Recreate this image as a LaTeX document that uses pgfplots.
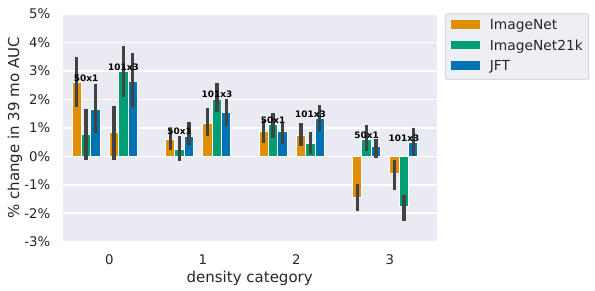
\documentclass[border=0pt]{standalone}
\usepackage{pgfplots}
\pgfplotsset{compat=1.18}
\usepackage{pgfplotstable}
\usepackage{fontspec}
\setmainfont{DejaVu Sans}

\definecolor{cOr}{HTML}{DE8F05}
\definecolor{cGr}{HTML}{029E73}
\definecolor{cBl}{HTML}{0173B2}
\definecolor{bgc}{HTML}{EAEAF2}
\definecolor{errc}{HTML}{424242}
\definecolor{txtc}{HTML}{262626}
\definecolor{legfill}{HTML}{EEEEF5}
\definecolor{legdraw}{HTML}{CCCCCC}

% x = category + offset (50x1: -0.35/-0.25/-0.15, 101x3: +0.05/+0.15/+0.25)
\pgfplotstableread{
x     y     ep    em
-0.35 2.59  0.89  0.86
0.05  0.82  0.96  0.96
0.65  0.59  0.38  0.38
1.05  1.17  0.54  0.46
1.65  0.88  0.38  0.41
2.05  0.73  0.44  0.38
2.65  -1.43 0.45  0.49
3.05  -0.61 0.47  0.58
}\tabIN
\pgfplotstableread{
x     y     ep    em
-0.25 0.78  0.89  0.92
0.15  2.99  0.87  0.89
0.75  0.25  0.45  0.41
1.15  2.01  0.56  0.46
1.75  1.11  0.42  0.46
2.15  0.44  0.41  0.35
2.75  0.59  0.50  0.40
3.15  -1.78 0.41  0.50
}\tabINtwo
\pgfplotstableread{
x     y     ep    em
-0.15 1.65  0.90  0.83
0.25  2.64  0.98  0.89
0.85  0.71  0.48  0.33
1.25  1.53  0.48  0.48
1.85  0.88  0.30  0.44
2.25  1.32  0.50  0.43
2.85  0.36  0.25  0.41
3.25  0.48  0.53  0.47
}\tabJFT

\begin{document}
\begin{tikzpicture}
\begin{axis}[
  at={(62.7bp,49.3bp)}, anchor=south west,
  width=374bp, height=227.7bp, scale only axis,
  xmin=-0.5, xmax=3.5, ymin=-3, ymax=5,
  xtick={0,1,2,3}, xticklabels={0,1,2,3},
  ytick={-3,-2,-1,0,1,2,3,4,5},
  yticklabels={-3\%,-2\%,-1\%,0\%,1\%,2\%,3\%,4\%,5\%},
  axis background/.style={fill=bgc},
  axis line style={draw=none},
  major tick length=0pt,
  ymajorgrids, grid style={white, line width=1.5bp},
  tick label style={font=\fontsize{13.3bp}{15bp}\selectfont, text=txtc},
  xticklabel style={anchor=north, inner sep=0pt, yshift=-12.8bp},
  yticklabel style={anchor=east, inner sep=0pt, xshift=-12.2bp},
  xlabel={density category}, ylabel={\% change in 39 mo AUC},
  every axis x label/.style={at={(axis description cs:0.5,-0.16)}, anchor=center,
     font=\fontsize{15bp}{17bp}\selectfont, text=txtc},
  every axis y label/.style={at={(axis description cs:-0.1275,0.5)}, anchor=center, rotate=90,
     font=\fontsize{15bp}{17bp}\selectfont, text=txtc},
  legend cell align=left,
  legend style={at={(rel axis cs:1.022,1.003)}, anchor=north west,
     draw=legdraw, fill=legfill, rounded corners=2.5bp, line width=0.8bp,
     inner xsep=6bp, inner ysep=5.6bp, row sep=7.7bp, column sep=10.4bp,
     font=\fontsize{13.8bp}{16bp}\selectfont, text=txtc,
     nodes={inner sep=0bp, text height=10bp, text depth=3bp}},
]
\addplot[ybar, bar width=0.1, bar shift=0pt, fill=cOr, draw=white, line width=1bp, forget plot,
  error bars/.cd, y dir=both, y explicit, error mark=none,
  error bar style={draw=errc, line width=3.3bp}]
  table[x=x, y=y, y error plus=ep, y error minus=em]{\tabIN};
\addplot[ybar, bar width=0.1, bar shift=0pt, fill=cGr, draw=white, line width=1bp, forget plot,
  error bars/.cd, y dir=both, y explicit, error mark=none,
  error bar style={draw=errc, line width=3.3bp}]
  table[x=x, y=y, y error plus=ep, y error minus=em]{\tabINtwo};
\addplot[ybar, bar width=0.1, bar shift=0pt, fill=cBl, draw=white, line width=1bp, forget plot,
  error bars/.cd, y dir=both, y explicit, error mark=none,
  error bar style={draw=errc, line width=3.3bp}]
  table[x=x, y=y, y error plus=ep, y error minus=em]{\tabJFT};

\addlegendimage{legend image code/.code={\fill[cOr, sharp corners] (0bp,-2.35bp) rectangle (27.3bp,5.35bp);}}
\addlegendentry{ImageNet}
\addlegendimage{legend image code/.code={\fill[cGr, sharp corners] (0bp,-2.35bp) rectangle (27.3bp,5.35bp);}}
\addlegendentry{ImageNet21k}
\addlegendimage{legend image code/.code={\fill[cBl, sharp corners] (0bp,-2.35bp) rectangle (27.3bp,5.35bp);}}
\addlegendentry{JFT}

\tikzset{blab/.style={font=\fontsize{8.9bp}{10bp}\selectfont\bfseries, anchor=base, inner sep=0pt, yshift=1.2bp, text=black}}
\node[blab] at (axis cs:-0.25,2.59) {50x1};
\node[blab] at (axis cs:0.15,2.99) {101x3};
\node[blab] at (axis cs:0.75,0.71) {50x1};
\node[blab] at (axis cs:1.15,2.01) {101x3};
\node[blab] at (axis cs:1.75,1.11) {50x1};
\node[blab] at (axis cs:2.15,1.32) {101x3};
\node[blab] at (axis cs:2.75,0.59) {50x1};
\node[blab] at (axis cs:3.15,0.48) {101x3};
\end{axis}
\pgfresetboundingbox
\path[use as bounding box] (0,0) rectangle (595bp,291bp);
\end{tikzpicture}
\end{document}
